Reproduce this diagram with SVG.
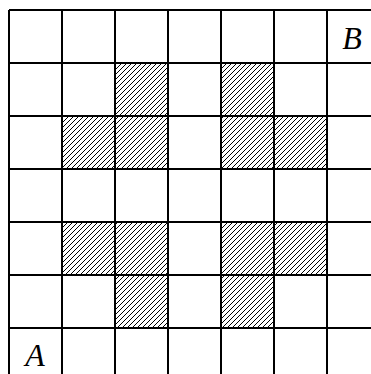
<svg xmlns="http://www.w3.org/2000/svg" width="371" height="374" viewBox="0 0 371 374">
<style>
.grid{stroke:#000;stroke-width:2;fill:none}
.hatch{fill:url(#h);stroke:none}
.lbl{font-family:"Liberation Serif",serif;font-style:italic;font-size:32px;fill:#000;text-anchor:middle}
</style>
<defs>
<pattern id="h" patternUnits="userSpaceOnUse" x="0" y="0" width="5" height="5">
<path d="M-1 6L6 -1" stroke="#000" stroke-width="1" shape-rendering="crispEdges"/>
</pattern>
</defs>
<rect width="371" height="374" fill="#fff"/>
<g id="hatched">
<rect class="hatch" x="115" y="63" width="53" height="53"/>
<rect class="hatch" x="221" y="63" width="53" height="53"/>
<rect class="hatch" x="62" y="116" width="106" height="53"/>
<rect class="hatch" x="221" y="116" width="106" height="53"/>
<rect class="hatch" x="62" y="222" width="106" height="53"/>
<rect class="hatch" x="221" y="222" width="106" height="53"/>
<rect class="hatch" x="115" y="275" width="53" height="53"/>
<rect class="hatch" x="221" y="275" width="53" height="53"/>
</g>
<g id="grid" class="grid">
<path d="M9 10V381M62 10V381M115 10V381M168 10V381M221 10V381M274 10V381M327 10V381M380 10V381"/>
<path d="M9 10H380M9 63H380M9 116H380M9 169H380M9 222H380M9 275H380M9 328H380M9 381H380"/>
</g>
<g id="labels">
<text class="lbl" x="352" y="49">B</text>
<text class="lbl" x="35" y="366">A</text>
</g>
</svg>
